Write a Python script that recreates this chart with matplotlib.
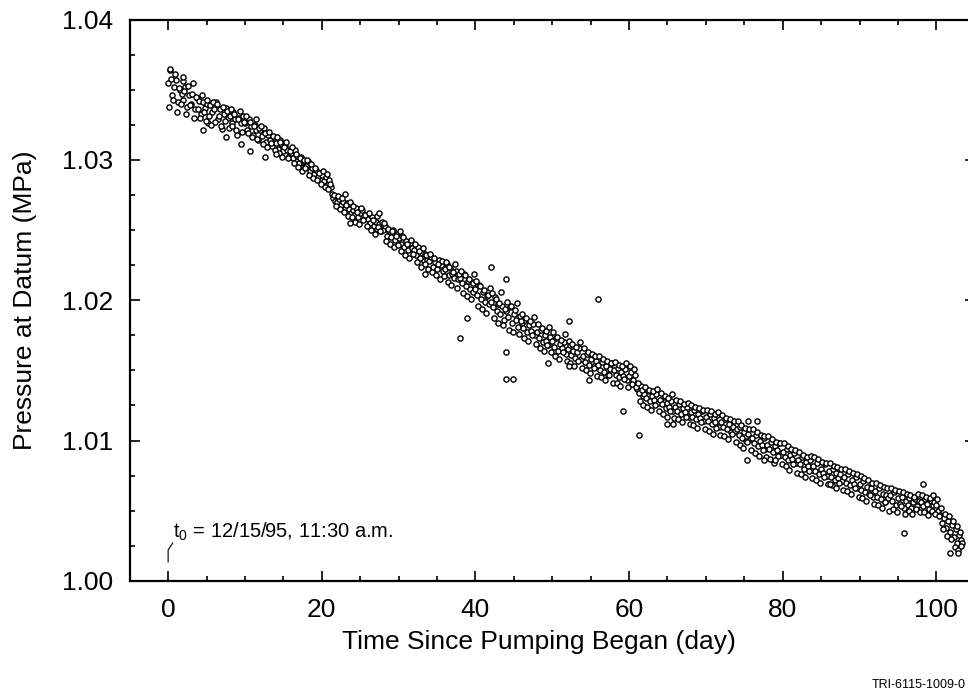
import numpy as np
import matplotlib
matplotlib.use("Agg")
import matplotlib.pyplot as plt
from matplotlib.ticker import MultipleLocator

plt.rcParams['font.family'] = ['Liberation Sans', 'DejaVu Sans']

# pressure at datum (MPa), readings on the quarter day from t0
pressure = [
    1.0355, 1.0364, 1.0346, 1.0352, 1.0357, 1.0341, 1.0350, 1.0347,
    1.0343, 1.0352, 1.0338, 1.0346, 1.0340, 1.0355, 1.0336, 1.0344,
    1.0342, 1.0333, 1.0341, 1.0337, 1.0340, 1.0326, 1.0339, 1.0334,
    1.0336, 1.0341, 1.0329, 1.0336, 1.0322, 1.0333, 1.0337, 1.0330,
    1.0331, 1.0326, 1.0334, 1.0329, 1.0318, 1.0330, 1.0326, 1.0331,
    1.0326, 1.0321, 1.0329, 1.0324, 1.0318, 1.0325, 1.0321, 1.0314,
    1.0321, 1.0317, 1.0323, 1.0313, 1.0318, 1.0314, 1.0310, 1.0316,
    1.0312, 1.0308, 1.0314, 1.0311, 1.0306, 1.0310, 1.0307, 1.0303,
    1.0305, 1.0301, 1.0307, 1.0303, 1.0298, 1.0302, 1.0299, 1.0295,
    1.0296, 1.0299, 1.0292, 1.0294, 1.0290, 1.0293, 1.0288, 1.0291,
    1.0289, 1.0285, 1.0288, 1.0283, 1.0286, 1.0281, 1.0273, 1.0271,
    1.0270, 1.0272, 1.0268, 1.0270, 1.0266, 1.0269, 1.0265, 1.0262,
    1.0264, 1.0261, 1.0266, 1.0259, 1.0262, 1.0264, 1.0258, 1.0261,
    1.0258, 1.0255, 1.0259, 1.0253, 1.0256, 1.0251, 1.0254, 1.0249,
    1.0250, 1.0253, 1.0246, 1.0249, 1.0245, 1.0250, 1.0243, 1.0247,
    1.0244, 1.0240, 1.0246, 1.0238, 1.0242, 1.0236, 1.0241, 1.0237,
    1.0236, 1.0232, 1.0238, 1.0230, 1.0234, 1.0228, 1.0233, 1.0229,
    1.0228, 1.0231, 1.0224, 1.0227, 1.0222, 1.0229, 1.0225, 1.0221,
    1.0222, 1.0226, 1.0218, 1.0223, 1.0219, 1.0216, 1.0221, 1.0215,
    1.0216, 1.0212, 1.0219, 1.0210, 1.0214, 1.0208, 1.0213, 1.0206,
    1.0208, 1.0204, 1.0211, 1.0201, 1.0206, 1.0199, 1.0203, 1.0197,
    1.0199, 1.0195, 1.0202, 1.0192, 1.0197, 1.0190, 1.0196, 1.0186,
    1.0192, 1.0188, 1.0195, 1.0184, 1.0190, 1.0186, 1.0181, 1.0189,
    1.0184, 1.0180, 1.0186, 1.0177, 1.0182, 1.0178, 1.0183, 1.0175,
    1.0177, 1.0173, 1.0179, 1.0170, 1.0175, 1.0171, 1.0168, 1.0174,
    1.0171, 1.0167, 1.0173, 1.0164, 1.0169, 1.0166, 1.0170, 1.0162,
    1.0165, 1.0168, 1.0161, 1.0164, 1.0159, 1.0163, 1.0166, 1.0158,
    1.0160, 1.0156, 1.0162, 1.0154, 1.0158, 1.0161, 1.0153, 1.0157,
    1.0154, 1.0150, 1.0156, 1.0149, 1.0153, 1.0147, 1.0151, 1.0155,
    1.0150, 1.0147, 1.0152, 1.0145, 1.0149, 1.0146, 1.0151, 1.0143,
    1.0146, 1.0149, 1.0143, 1.0147, 1.0137, 1.0134, 1.0139, 1.0132,
    1.0133, 1.0130, 1.0135, 1.0128, 1.0132, 1.0129, 1.0133, 1.0127,
    1.0129, 1.0126, 1.0131, 1.0123, 1.0127, 1.0124, 1.0128, 1.0121,
    1.0124, 1.0121, 1.0126, 1.0119, 1.0123, 1.0120, 1.0124, 1.0117,
    1.0120, 1.0117, 1.0122, 1.0115, 1.0119, 1.0116, 1.0121, 1.0114,
    1.0117, 1.0114, 1.0119, 1.0112, 1.0116, 1.0113, 1.0118, 1.0110,
    1.0113, 1.0110, 1.0115, 1.0108, 1.0112, 1.0106, 1.0110, 1.0107,
    1.0108, 1.0104, 1.0110, 1.0102, 1.0106, 1.0100, 1.0105, 1.0101,
    1.0102, 1.0098, 1.0104, 1.0096, 1.0100, 1.0097, 1.0102, 1.0094,
    1.0097, 1.0094, 1.0099, 1.0092, 1.0096, 1.0093, 1.0098, 1.0090,
    1.0092, 1.0088, 1.0094, 1.0086, 1.0090, 1.0087, 1.0091, 1.0084,
    1.0086, 1.0083, 1.0088, 1.0080, 1.0085, 1.0082, 1.0086, 1.0079,
    1.0082, 1.0078, 1.0084, 1.0076, 1.0080, 1.0077, 1.0083, 1.0075,
    1.0078, 1.0074, 1.0080, 1.0072, 1.0077, 1.0073, 1.0076, 1.0071,
    1.0074, 1.0070, 1.0076, 1.0068, 1.0072, 1.0069, 1.0074, 1.0066,
    1.0069, 1.0065, 1.0071, 1.0063, 1.0067, 1.0062, 1.0066, 1.0060,
    1.0064, 1.0060, 1.0066, 1.0058, 1.0062, 1.0056, 1.0061, 1.0059,
    1.0061, 1.0057, 1.0063, 1.0054, 1.0059, 1.0055, 1.0060, 1.0052,
    1.0057, 1.0054, 1.0059, 1.0052, 1.0056, 1.0058, 1.0053, 1.0057,
    1.0056, 1.0053, 1.0058, 1.0055, 1.0051, 1.0057, 1.0054, 1.0056,
    1.0054, 1.0050, 1.0047, 1.0041, 1.0045, 1.0038, 1.0043, 1.0035,
    1.0040, 1.0031, 1.0037, 1.0027, 1.0033, 1.0029,
]
days = np.arange(len(pressure)) * 0.25

# readings taken in between (offset by 1/8 day)
pressure_b = [
    1.0338, 1.0358, 1.0343, 1.0361, 1.0334, 1.0351, 1.0340, 1.0356,
    1.0349, 1.0333, 1.0353, 1.0339, 1.0347, 1.0330, 1.0345, 1.0336,
    1.0330, 1.0346, 1.0334, 1.0328, 1.0343, 1.0331, 1.0325, 1.0341,
    1.0327, 1.0340, 1.0331, 1.0324, 1.0338, 1.0328, 1.0335, 1.0323,
    1.0336, 1.0324, 1.0333, 1.0321, 1.0329, 1.0335, 1.0320, 1.0327,
    1.0331, 1.0319, 1.0327, 1.0316, 1.0324, 1.0329, 1.0315, 1.0323,
    1.0324, 1.0311, 1.0319, 1.0309, 1.0320, 1.0312, 1.0317, 1.0307,
    1.0316, 1.0305, 1.0313, 1.0302, 1.0309, 1.0313, 1.0301, 1.0306,
    1.0309, 1.0298, 1.0304, 1.0295, 1.0301, 1.0292, 1.0300, 1.0294,
    1.0300, 1.0289, 1.0297, 1.0287, 1.0294, 1.0286, 1.0291, 1.0283,
    1.0292, 1.0281, 1.0290, 1.0279, 1.0283, 1.0276, 1.0275, 1.0267,
    1.0274, 1.0265, 1.0273, 1.0263, 1.0268, 1.0260, 1.0270, 1.0259,
    1.0267, 1.0256, 1.0263, 1.0254, 1.0266, 1.0257, 1.0261, 1.0253,
    1.0262, 1.0250, 1.0257, 1.0247, 1.0260, 1.0252, 1.0249, 1.0256,
    1.0255, 1.0242, 1.0251, 1.0240, 1.0249, 1.0238, 1.0246, 1.0239,
    1.0249, 1.0235, 1.0245, 1.0232, 1.0240, 1.0230, 1.0243, 1.0233,
    1.0240, 1.0227, 1.0235, 1.0224, 1.0237, 1.0226, 1.0232, 1.0222,
    1.0233, 1.0220, 1.0230, 1.0218, 1.0226, 1.0215, 1.0228, 1.0217,
    1.0227, 1.0213, 1.0224, 1.0211, 1.0220, 1.0226, 1.0209, 1.0219,
    1.0221, 1.0205, 1.0218, 1.0203, 1.0215, 1.0201, 1.0212, 1.0219,
    1.0214, 1.0196, 1.0210, 1.0194, 1.0207, 1.0191, 1.0204, 1.0209,
    1.0205, 1.0187, 1.0201, 1.0184, 1.0198, 1.0206, 1.0182, 1.0194,
    1.0199, 1.0179, 1.0196, 1.0177, 1.0193, 1.0198, 1.0176, 1.0185,
    1.0190, 1.0173, 1.0187, 1.0171, 1.0185, 1.0175, 1.0188, 1.0169,
    1.0183, 1.0166, 1.0180, 1.0164, 1.0178, 1.0168, 1.0181, 1.0163,
    1.0177, 1.0160, 1.0174, 1.0158, 1.0172, 1.0163, 1.0176, 1.0157,
    1.0171, 1.0155, 1.0169, 1.0153, 1.0167, 1.0157, 1.0170, 1.0152,
    1.0166, 1.0150, 1.0163, 1.0148, 1.0162, 1.0152, 1.0160, 1.0146,
    1.0160, 1.0145, 1.0158, 1.0143, 1.0157, 1.0147, 1.0155, 1.0141,
    1.0156, 1.0141, 1.0154, 1.0139, 1.0153, 1.0144, 1.0155, 1.0138,
    1.0153, 1.0140, 1.0151, 1.0138, 1.0141, 1.0128, 1.0136, 1.0125,
    1.0138, 1.0124, 1.0136, 1.0122, 1.0135, 1.0125, 1.0137, 1.0121,
    1.0134, 1.0119, 1.0132, 1.0117, 1.0130, 1.0121, 1.0133, 1.0116,
    1.0129, 1.0115, 1.0128, 1.0113, 1.0126, 1.0117, 1.0127, 1.0112,
    1.0125, 1.0111, 1.0124, 1.0109, 1.0123, 1.0113, 1.0122, 1.0108,
    1.0122, 1.0107, 1.0121, 1.0105, 1.0119, 1.0109, 1.0120, 1.0104,
    1.0118, 1.0103, 1.0116, 1.0101, 1.0115, 1.0105, 1.0114, 1.0099,
    1.0114, 1.0097, 1.0111, 1.0095, 1.0109, 1.0099, 1.0108, 1.0093,
    1.0108, 1.0091, 1.0106, 1.0089, 1.0104, 1.0093, 1.0103, 1.0088,
    1.0103, 1.0087, 1.0101, 1.0084, 1.0099, 1.0089, 1.0098, 1.0083,
    1.0098, 1.0082, 1.0096, 1.0079, 1.0094, 1.0083, 1.0093, 1.0077,
    1.0092, 1.0076, 1.0090, 1.0074, 1.0088, 1.0078, 1.0089, 1.0073,
    1.0088, 1.0072, 1.0087, 1.0070, 1.0085, 1.0074, 1.0084, 1.0069,
    1.0084, 1.0068, 1.0082, 1.0066, 1.0081, 1.0070, 1.0080, 1.0065,
    1.0080, 1.0064, 1.0078, 1.0062, 1.0077, 1.0066, 1.0076, 1.0060,
    1.0075, 1.0059, 1.0073, 1.0057, 1.0072, 1.0061, 1.0070, 1.0055,
    1.0070, 1.0054, 1.0068, 1.0052, 1.0067, 1.0056, 1.0066, 1.0050,
    1.0066, 1.0051, 1.0065, 1.0049, 1.0064, 1.0053, 1.0063, 1.0048,
    1.0062, 1.0050, 1.0061, 1.0048, 1.0060, 1.0051, 1.0062, 1.0049,
    1.0061, 1.0049, 1.0060, 1.0047, 1.0059, 1.0050, 1.0061, 1.0048,
    1.0058, 1.0046, 1.0052, 1.0037, 1.0048, 1.0032, 1.0046, 1.0030,
    1.0043, 1.0024, 1.0039, 1.0022, 1.0035, 1.0027,
]
days_b = 0.125 + np.arange(len(pressure_b)) * 0.25

# stray readings off the main band
stray_days = [0.3, 2.0, 4.5, 7.5, 9.5, 10.6, 12.6, 14.0, 23.0, 23.7, 27.5, 33.5,
              38.0, 38.9, 42.0, 44.0, 44.0, 44.0, 44.9, 49.4, 52.2, 52.2, 54.8,
              56.0, 59.2, 61.3, 65.0, 65.7, 75.3, 75.5, 76.7, 77.5, 79.0, 86.2,
              95.8, 98.2, 101.8, 102.8, 103.2]
stray_p = [1.0365, 1.0359, 1.0321, 1.0316, 1.0311, 1.0306, 1.0302, 1.0304, 1.0276,
           1.0255, 1.0262, 1.0219, 1.0173, 1.0187, 1.0224, 1.0215, 1.0163, 1.0144,
           1.0144, 1.0155, 1.0185, 1.0153, 1.0143, 1.0201, 1.0121, 1.0104, 1.0112,
           1.0112, 1.0086, 1.0114, 1.0114, 1.0086, 1.0086, 1.0069, 1.0034, 1.0069,
           1.0020, 1.0020, 1.0025]

fig = plt.figure(figsize=(9.68, 6.99), dpi=100)
ax = fig.add_axes([0.134, 0.169, 0.873, 0.803])

marker_kw = dict(s=14, marker='o', facecolors='white', edgecolors='black',
                 linewidths=1.0, zorder=3)
ax.scatter(days, pressure, **marker_kw)
ax.scatter(days_b, pressure_b, **marker_kw)
ax.scatter(stray_days, stray_p, **marker_kw)

ax.set_xlim(-5, 105)
ax.set_ylim(1.00, 1.04)
ax.xaxis.set_major_locator(MultipleLocator(20))
ax.xaxis.set_minor_locator(MultipleLocator(5))
ax.yaxis.set_major_locator(MultipleLocator(0.01))
ax.yaxis.set_minor_locator(MultipleLocator(0.0025))
ax.yaxis.set_major_formatter(matplotlib.ticker.FormatStrFormatter('%.2f'))

ax.tick_params(which='both', direction='in', top=True, right=True,
               labelsize=19, width=1.2, colors='black')
ax.tick_params(which='major', length=7, pad=12)
ax.tick_params(which='minor', length=3.5)
for sp in ax.spines.values():
    sp.set_linewidth(1.6)

ax.set_xlabel('Time Since Pumping Began (day)', fontsize=19, labelpad=6)
ax.xaxis.label.set_x(0.484)
ax.set_ylabel('Pressure at Datum (MPa)', fontsize=19, labelpad=18)

# t0 marker
ax.plot([0, 0, 0.6], [1.00135, 1.0022, 1.0027], color='black', lw=0.8)
ax.text(0.6, 1.0035, r'$\mathregular{t_0}$ = 12/15/95, 11:30 a.m.',
        fontsize=14.5, va='center', ha='left')

fig.text(0.998, 0.012, 'TRI-6115-1009-0', fontsize=9, ha='right', va='bottom')

fig.savefig('out.png', dpi=100)
